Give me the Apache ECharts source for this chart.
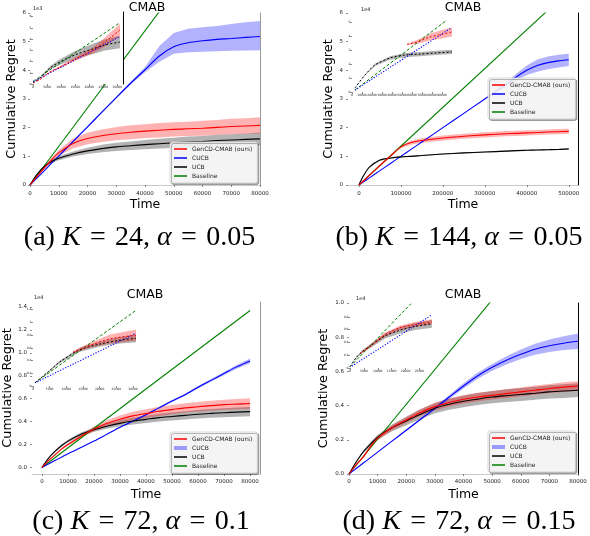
<!DOCTYPE html>
<html><head><meta charset="utf-8">
<script src="https://cdn.jsdelivr.net/npm/echarts@6/dist/echarts.min.js"></script>
<style>html,body{margin:0;padding:0;background:#fff}#c{width:590px;height:536px}</style>
</head><body><div id="c"></div>
<script>
// ---------------- DATA ----------------
const legendNames = ['GenCD-CMAB (ours)', 'CUCB', 'UCB', 'Baseline'];
const captions = [['a','24','0.05'],['b','144','0.05'],['c','72','0.1'],['d','72','0.15']];

// Panel (a)  K=24, alpha=0.05  (y in units of 1e3)
const A_time = [0,2500,5000,7500,10000,15000,20000,25000,30000,35000,40000,45000,50000,55000,60000,65000,70000,75000,80000];
const A_gen = [0,0.3,0.6,0.88,1.12,1.45,1.62,1.72,1.79,1.84,1.88,1.91,1.94,1.96,1.98,2.01,2.04,2.06,2.08];
const A_genSpread = [0,0.02,0.05,0.08,0.1,0.17,0.2,0.22,0.23,0.24,0.24,0.25,0.25,0.25,0.26,0.26,0.27,0.27,0.28];
const A_ucb = [0,0.38,0.65,0.82,0.93,1.08,1.19,1.27,1.33,1.37,1.41,1.44,1.47,1.5,1.52,1.55,1.57,1.59,1.61];
const A_ucbSpread = [0,0.01,0.03,0.05,0.07,0.09,0.11,0.13,0.14,0.15,0.16,0.17,0.18,0.19,0.19,0.2,0.2,0.21,0.22];
const A_cucb = [0,0.25,0.5,0.76,1.01,1.52,2.03,2.54,3.05,3.55,4.02,4.5,4.82,4.96,5.03,5.08,5.11,5.15,5.18];
const A_cucbLo = [0,0.24,0.49,0.74,0.99,1.5,2.0,2.51,3.02,3.51,3.93,4.3,4.58,4.63,4.65,4.67,4.68,4.69,4.7];
const A_cucbHi = [0,0.26,0.51,0.78,1.03,1.54,2.06,2.57,3.08,3.6,4.12,4.85,5.3,5.45,5.5,5.55,5.62,5.68,5.72];
const A_baseTime = [0,80000];
const A_base = [0,10.76];

// Panel (b)  K=144, alpha=0.05 (y in units of 1e4)
const B_time = [0,10000,25000,50000,75000,100000,125000,150000,200000,250000,300000,350000,375000,400000,425000,450000,475000,500000];
const B_gen = [0,0.13,0.34,0.68,1.01,1.33,1.48,1.55,1.64,1.7,1.75,1.79,1.8,1.82,1.83,1.85,1.86,1.87];
const B_genSpread = [0,0,0.01,0.02,0.03,0.05,0.07,0.08,0.09,0.09,0.09,0.09,0.09,0.09,0.09,0.09,0.09,0.09];
const B_ucb = [0,0.3,0.62,0.87,0.94,0.98,1.0,1.03,1.08,1.12,1.15,1.18,1.2,1.21,1.22,1.23,1.24,1.26];
const B_ucbSpread = [0,0.01,0.01,0.02,0.02,0.02,0.02,0.02,0.02,0.02,0.02,0.02,0.02,0.02,0.02,0.02,0.02,0.02];
const B_cucb = [0,0.1,0.25,0.5,0.75,1.0,1.25,1.5,2.0,2.5,3.0,3.5,3.77,4.0,4.17,4.27,4.33,4.37];
const B_cucbLo = [0,0.1,0.25,0.5,0.75,1.0,1.25,1.5,1.99,2.49,2.98,3.45,3.65,3.84,3.95,4.04,4.1,4.15];
const B_cucbHi = [0,0.1,0.25,0.5,0.75,1.0,1.25,1.5,2.01,2.51,3.02,3.55,3.88,4.17,4.38,4.48,4.54,4.58];
const B_baseTime = [0,500000];
const B_base = [0,6.77];

// Panel (c)  K=72, alpha=0.1 (y in units of 1e4)
const C_time = [0,2500,5000,7500,10000,15000,20000,25000,30000,35000,40000,45000,50000,55000,60000,65000,70000,75000,80000];
const C_gen = [0,0.06,0.11,0.16,0.2,0.27,0.335,0.385,0.42,0.45,0.47,0.49,0.505,0.52,0.53,0.54,0.548,0.553,0.558];
const C_genSpread = [0,0.003,0.005,0.008,0.01,0.015,0.02,0.028,0.033,0.036,0.038,0.04,0.04,0.041,0.042,0.043,0.044,0.045,0.045];
const C_ucb = [0,0.08,0.14,0.19,0.23,0.29,0.33,0.36,0.385,0.405,0.42,0.435,0.445,0.455,0.465,0.472,0.478,0.483,0.487];
const C_ucbSpread = [0,0.005,0.008,0.01,0.012,0.015,0.018,0.022,0.026,0.03,0.032,0.034,0.035,0.036,0.037,0.038,0.039,0.04,0.04];
const C_cucb = [0,0.03,0.06,0.09,0.12,0.175,0.23,0.29,0.35,0.405,0.46,0.52,0.58,0.635,0.7,0.76,0.82,0.88,0.93];
const C_cucbSpread = [0,0,0,0,0,0.001,0.002,0.003,0.004,0.005,0.006,0.007,0.008,0.009,0.01,0.012,0.014,0.017,0.02];
const C_baseTime = [0,80000];
const C_base = [0,1.37];

// Panel (d)  K=72, alpha=0.15 (y in units of 1e4)
const D_time = [0,2500,5000,7500,10000,15000,20000,25000,30000,35000,40000,45000,50000,55000,60000,65000,70000,75000,80000];
const D_gen = [0,0.055,0.1,0.16,0.21,0.27,0.316,0.36,0.394,0.418,0.437,0.45,0.46,0.47,0.48,0.49,0.5,0.508,0.515];
const D_genSpread = [0,0.003,0.006,0.01,0.012,0.015,0.018,0.02,0.022,0.023,0.024,0.025,0.025,0.026,0.026,0.027,0.027,0.028,0.028];
const D_ucb = [0,0.07,0.13,0.175,0.215,0.27,0.31,0.35,0.385,0.408,0.425,0.438,0.45,0.458,0.465,0.472,0.48,0.485,0.49];
const D_ucbSpread = [0,0.004,0.008,0.012,0.015,0.02,0.025,0.028,0.03,0.032,0.034,0.035,0.036,0.037,0.038,0.038,0.039,0.04,0.04];
const D_cucb = [0,0.032,0.064,0.096,0.128,0.192,0.256,0.32,0.384,0.45,0.515,0.575,0.624,0.665,0.7,0.73,0.75,0.765,0.776];
const D_cucbSpread = [0,0,0,0,0,0.002,0.004,0.006,0.008,0.012,0.015,0.018,0.02,0.024,0.028,0.032,0.036,0.04,0.045];
const D_baseTime = [0,80000];
const D_base = [0,1.63];

// Insets (zoomed views)
const IA_time = [0,2500,6000,9600,14900,21000,25600,30900];
const IA_ucb = [0.1,0.53,1.42,1.96,2.58,3.1,3.47,3.73];
const IA_ucbSpread = [0,0.05,0.15,0.25,0.35,0.45,0.5,0.55];
const IA_gen = [0.1,0.4,1.07,1.5,2.2,2.95,3.73,4.8];
const IA_genSpread = [0,0.02,0.05,0.1,0.15,0.25,0.4,0.55];
const IA_cucb = [0.2,0.53,0.98,1.45,2.14,2.93,3.53,4.22];
const IA_base = [0.24,0.66,1.25,1.86,2.75,3.78,4.55,5.45];

const IB_time = [3000,13000,23000,38000,53000,68000,84000,100000];
const IB_ucb = [0.29,1.21,1.93,2.43,2.64,2.71,2.79,2.86];
const IB_ucbSpread = [0,0.02,0.08,0.12,0.15,0.15,0.15,0.15];
const IB_genTime = [55000,65000,78000,90000,100000];
const IB_gen = [3.4,3.57,3.93,4.12,4.29];
const IB_genSpread = [0.05,0.15,0.25,0.3,0.32];
const IB_cucbTime = [3000,99000];
const IB_cucb = [0.14,4.57];
const IB_baseTime = [3000,95000];
const IB_base = [0.14,5.14];

const IC_time = [600,4500,8100,14100,20100,26100,30900];
const IC_ucb = [0.05,0.22,0.38,0.57,0.66,0.72,0.75];
const IC_ucbSpread = [0,0.01,0.02,0.03,0.04,0.05,0.06];
const IC_genTime = [12000,17100,23100,30900];
const IC_gen = [0.53,0.64,0.74,0.8];
const IC_genSpread = [0.02,0.04,0.07,0.09];
const IC_cucbTime = [600,30900];
const IC_cucb = [0.05,0.83];
const IC_baseTime = [600,30900];
const IC_base = [0.05,1.19];

const ID_time = [0,2200,4500,7200,12600,18000,23500,29500];
const ID_ucb = [0.02,0.16,0.26,0.34,0.5,0.59,0.65,0.69];
const ID_ucbSpread = [0,0.01,0.02,0.03,0.04,0.05,0.055,0.06];
const ID_genTime = [3600,7200,12600,18000,23500,29500];
const ID_gen = [0.22,0.34,0.52,0.63,0.68,0.72];
const ID_genSpread = [0.01,0.02,0.03,0.035,0.04,0.04];
const ID_cucbTime = [700,29500];
const ID_cucb = [0.03,0.83];
const ID_baseTime = [0,29900];
const ID_base = [0.02,1.36];

// tick values
const xTicks80k = [0,10000,20000,30000,40000,50000,60000,70000,80000];
const xTicks500k = [0,100000,200000,300000,400000,500000];
const yTicks6 = [0,1,2,3,4,5,6];
const yTicks14 = [0,0.2,0.4,0.6,0.8,1.0,1.2,1.4];
const yTicks10 = [0,0.2,0.4,0.6,0.8,1.0];

// ---------------- BUILD ----------------
const FONT = 'DejaVu Sans';
const RED='#ff0000', BLUE='#0000ff', BLACK='#000000', GREEN='#008000';
const RED_F='rgba(255,0,0,0.3)', BLUE_F='rgba(0,0,255,0.3)', GRAY_F='rgba(0,0,0,0.3)';
const grid=[], xAxis=[], yAxis=[], series=[], graphic=[], legend=[];
const add = (a,s,k)=>a.map((v,i)=>+(v+k*s[i]).toFixed(4));

function makePanel(box, xr, yr, o) {
  const gi = grid.length;
  const z = o.z || 0;
  grid.push(Object.assign({left:box[0], top:box[1], width:box[2], height:box[3], z:z}, o.grid||{}));
  const xi = xAxis.length, yi = yAxis.length;
  xAxis.push({type:'value', gridIndex:gi, min:xr[0], max:xr[1], z:z+1,
    splitLine:{show:false},
    axisLine:{show:o.xLine!==false, onZero:false, lineStyle:{color:o.xLineColor||'#bbb', width:0.8}},
    axisTick:{show:true, length:2, lineStyle:{color:'#444', width:0.6}, customValues:o.xTicks},
    axisLabel:{fontSize:o.lf||5.5, fontFamily:FONT, color:'#222', margin:o.xm||5, customValues:o.xTicks, formatter:v=>String(v)},
    name:o.xName||'', nameLocation:'middle', nameGap:o.xGap||13,
    nameTextStyle:{fontSize:12.5, fontFamily:FONT, color:'#000'}});
  yAxis.push({type:'value', gridIndex:gi, min:yr[0], max:yr[1], z:z+1,
    splitLine:{show:false},
    axisLine:{show:false, onZero:false},
    axisTick:{show:true, length:2, lineStyle:{color:'#444', width:0.6}, customValues:o.yTicks},
    axisLabel:{fontSize:o.lf||5.5, fontFamily:FONT, color:'#222', margin:o.ym||4, customValues:o.yTicks, formatter:o.yFmt||(v=>String(v))},
    name:o.yName||'', nameLocation:'middle', nameGap:o.yGap||12,
    nameTextStyle:{fontSize:12.8, fontFamily:FONT, color:'#000'}});
  if (o.right) {
    yAxis.push({type:'value', gridIndex:gi, position:'right', min:yr[0], max:yr[1], z:z+1,
      axisLine:{show:true, onZero:false, lineStyle:{color:o.right, width:1}},
      axisTick:{show:false}, axisLabel:{show:false}, splitLine:{show:false}});
  }
  return {xi, yi, z};
}
function line(ax, name, xs, ys, color, width, type) {
  series.push({type:'line', name, xAxisIndex:ax.xi, yAxisIndex:ax.yi,
    data: xs.map((x,i)=>[x,ys[i]]), symbol:'none', smooth:0.3, silent:true,
    lineStyle:{color, width, type:type||'solid'}, itemStyle:{color}, z:ax.z+3});
}
// confidence band drawn as a polygon through the axis scales
function band(ax, xs, lo, hi, color) {
  const rows = xs.map((x,i)=>[x, lo[i], hi[i]]);
  series.push({type:'custom', xAxisIndex:ax.xi, yAxisIndex:ax.yi, data: rows, silent:true, clip:true,
    z:ax.z+2, encode:{x:0, y:[1,2]},
    renderItem: function (params, api) {
      if (params.dataIndex !== 0) return null;
      const pts = [];
      for (let i = 0; i < rows.length; i++) pts.push(api.coord([rows[i][0], rows[i][2]]));
      for (let i = rows.length - 1; i >= 0; i--) pts.push(api.coord([rows[i][0], rows[i][1]]));
      return {type:'polygon', shape:{points:pts}, style:{fill:color, stroke:null}};
    }});
}
const THIN='path://M0 0h26v3h-26z', THICK='path://M0 0h13v4h-13z';
function addLegend(left, top, thickCucb) {
  legend.push({orient:'vertical', left, top, selectedMode:false, itemWidth:13, itemHeight:4, itemGap:3,
    padding:[4,5,4,4], backgroundColor:'rgba(255,255,255,0.85)', borderColor:'#cccccc', borderWidth:0.8, borderRadius:2,
    shadowColor:'rgba(0,0,0,0.35)', shadowBlur:0, shadowOffsetX:1.5, shadowOffsetY:1.5,
    textStyle:{fontSize:6, fontFamily:FONT, color:'#222'},
    data:[
      {name:legendNames[0], icon:THIN, itemStyle:{color:RED}},
      {name:legendNames[1], icon:thickCucb?THICK:THIN, itemStyle:{color:thickCucb?'#9a9aff':BLUE}},
      {name:legendNames[2], icon:THIN, itemStyle:{color:BLACK}},
      {name:legendNames[3], icon:THIN, itemStyle:{color:GREEN}}]});
}
function title(x, y) {
  graphic.push({type:'text', x, y, z:50, style:{text:'CMAB', fontSize:12.5, fontFamily:FONT, fill:'#000', align:'center', verticalAlign:'middle'}});
}
function smallText(x, y, t) {
  graphic.push({type:'text', x, y, z:50, style:{text:t, fontSize:5, fontFamily:FONT, fill:'#222', align:'left', verticalAlign:'middle'}});
}
function caption(cx, cy, c) {
  const S = '\u2004';
  const txt = '{r|('+c[0]+') }{i|K}{r|'+S+'='+S+c[1]+', }{i|\u03b1}{r|'+S+'='+S+c[2]+'}';
  graphic.push({type:'text', x:cx, y:cy, z:50, style:{text:txt, align:'center', verticalAlign:'middle',
    rich:{r:{fontSize:28, fontFamily:'Liberation Serif', fill:'#000'}, i:{fontSize:28, fontFamily:'Liberation Serif', fontStyle:'italic', fill:'#000'}}}});
}
function mainSeries(ax, t, gen, genS, ucb, ucbS, cucb, cLo, cHi, bt, b) {
  band(ax, t, add(ucb,ucbS,-1), add(ucb,ucbS,1), GRAY_F);
  band(ax, t, add(gen,genS,-1), add(gen,genS,1), RED_F);
  band(ax, t, cLo, cHi, BLUE_F);
  line(ax, legendNames[3], bt, b, GREEN, 1.1);
  line(ax, legendNames[1], t, cucb, BLUE, 1.1);
  line(ax, legendNames[2], t, ucb, BLACK, 1.1);
  line(ax, legendNames[0], t, gen, RED, 1.1);
}
function insetSeries(ax, ut, ucb, ucbS, gt, gen, genS, ct, cucb, bt, base) {
  band(ax, ut, add(ucb,ucbS,-1), add(ucb,ucbS,1), GRAY_F);
  band(ax, gt, add(gen,genS,-1), add(gen,genS,1), RED_F);
  line(ax, '_ib', bt, base, GREEN, 1, [3,2]);
  line(ax, '_ic', ct, cucb, BLUE, 1.1, [1.2,1.6]);
  line(ax, '_iu', ut, ucb, BLACK, 1, [2,2]);
  line(ax, '_ig', gt, gen, RED, 1, [2,2]);
}
const fmt1 = v=>v.toFixed(1);

// Panel (a)
const pa = makePanel([30,13,230,172],[0,80000],[0,6],{xTicks:xTicks80k,yTicks:yTicks6,right:'#999',xName:'Time',xGap:13,yName:'Cumulative Regret',yGap:12,xm:6});
mainSeries(pa, A_time, A_gen, A_genSpread, A_ucb, A_ucbSpread, A_cucb, A_cucbLo, A_cucbHi, A_baseTime, A_base);
// Panel (b)
const pb = makePanel([348,13,230,172],[-26000,522000],[0,6],{xTicks:xTicks500k,yTicks:yTicks6,right:'#000',xName:'Time',xGap:13,yName:'Cumulative Regret',yGap:11,ym:5,xm:6});
mainSeries(pb, B_time, B_gen, B_genSpread, B_ucb, B_ucbSpread, B_cucb, B_cucbLo, B_cucbHi, B_baseTime, B_base);
// Panel (c)
const pc = makePanel([30,302,230,172],[-3810,83810],[-0.057,1.444],{xTicks:xTicks80k,yTicks:yTicks14,right:'#999',xName:'Time',xGap:14,yName:'Cumulative Regret',yGap:18,ym:5,yFmt:fmt1});
mainSeries(pc, C_time, C_gen, C_genSpread, C_ucb, C_ucbSpread, C_cucb, add(C_cucb,C_cucbSpread,-1), add(C_cucb,C_cucbSpread,1), C_baseTime, C_base);
// Panel (d)
const pd = makePanel([349,303,229,171],[0,80000],[0,1],{xTicks:xTicks80k,yTicks:yTicks10,right:'#000',xName:'Time',xGap:14,yName:'Cumulative Regret',yGap:19,ym:5,yFmt:fmt1});
mainSeries(pd, D_time, D_gen, D_genSpread, D_ucb, D_ucbSpread, D_cucb, add(D_cucb,D_cucbSpread,-1), add(D_cucb,D_cucbSpread,1), D_baseTime, D_base);

// Insets
const insetOpt = (xt, yt, extra) => Object.assign({z:10, grid:{show:true, backgroundColor:'#ffffff', borderWidth:0},
  xLine:false, xTicks:xt, yTicks:yt, lf:3, xm:2, ym:1.5}, extra||{});
const ia = makePanel([33,12,90,72],[0,32000],[0,6.4], insetOpt([0,5000,10000,15000,20000,25000,30000],[0,1,2,3,4,5,6],{right:'#000'}));
insetSeries(ia, IA_time, IA_ucb, IA_ucbSpread, IA_time, IA_gen, IA_genSpread, IA_time, IA_cucb, IA_time, IA_base);
const ib = makePanel([352,8,100,84],[0,100000],[0,6], insetOpt([0,10000,20000,30000,40000,50000,60000,70000,80000,90000,100000],[0,1,2,3,4,5]));
insetSeries(ib, IB_time, IB_ucb, IB_ucbSpread, IB_genTime, IB_gen, IB_genSpread, IB_cucbTime, IB_cucb, IB_baseTime, IB_base);
const ic = makePanel([33,297,105,89],[0,31500],[0,1.4], insetOpt([0,5000,10000,15000,20000,25000,30000],[0,0.2,0.4,0.6,0.8,1.0,1.2]));
insetSeries(ic, IC_time, IC_ucb, IC_ucbSpread, IC_genTime, IC_gen, IC_genSpread, IC_cucbTime, IC_cucb, IC_baseTime, IC_base);
const id = makePanel([350,304,83,64],[0,29900],[0,1], insetOpt([0,5000,10000,15000,20000,25000],[0,0.2,0.4,0.6,0.8]));
insetSeries(id, ID_time, ID_ucb, ID_ucbSpread, ID_genTime, ID_gen, ID_genSpread, ID_cucbTime, ID_cucb, ID_baseTime, ID_base);

// legends, titles, captions
addLegend(170,142,false);
addLegend(488,78,false);
addLegend(170,432,true);
addLegend(488,431,true);
title(147,8); title(463,8); title(145,295); title(463,295);
smallText(33,9,'1e3'); smallText(361,10,'1e4'); smallText(34,298,'1e4'); smallText(356,299,'1e4');
caption(139.5,238,captions[0]); caption(459,238,captions[1]);
caption(141,522,captions[2]); caption(459,522,captions[3]);

const chart = echarts.init(document.getElementById('c'), null, {renderer:'canvas'});
chart.setOption({animation:false, backgroundColor:'#fff', grid, xAxis, yAxis, series, legend, graphic});
</script>
</body></html>
